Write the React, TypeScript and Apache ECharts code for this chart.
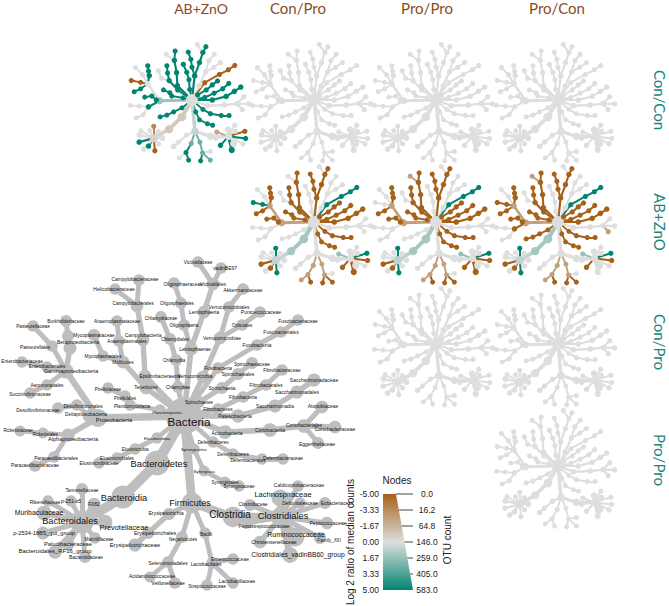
import React, { useEffect, useRef } from "react";
import * as echarts from "echarts";

// [key, parent key, layout x, layout y, OTU count, label x, label y, label size]
type Row = [string, string | null, number, number, number, number, number, number];

const rootRow: Row[] = [["Bacteria", null, 184, 416, 583, 189, 421, 11.7]];
const proteobacteria: Row[] = [
  ["Proteobacteria", "Bacteria", 98, 418, 60, 114, 420, 5.6],
  ["Deltaproteobacteria", "Proteobacteria", 89, 416, 8, 86, 414, 4.8],
  ["Desulfovibrionales", "Deltaproteobacteria", 77, 405, 4, 83, 406, 4.8],
  ["Desulfovibrionaceae", "Desulfovibrionales", 58, 408, 4, 38, 410, 4.8],
  ["Gammaproteobacteria", "Proteobacteria", 66, 371, 25, 71, 371, 5.5],
  ["Aeromonadales", "Gammaproteobacteria", 47, 385, 3, 47, 385, 4.7],
  ["Succinivibrionaceae", "Aeromonadales", 30, 393, 3, 30, 394, 4.7],
  ["Enterobacteriales", "Gammaproteobacteria", 47, 367, 3, 47, 366, 4.7],
  ["Enterobacteriaceae", "Enterobacteriales", 22, 362, 3, 22, 361, 4.8],
  ["Pasteurellales", "Gammaproteobacteria", 52, 346, 4, 35, 347, 4.8],
  ["Pasteurellaceae", "Pasteurellales", 33, 326, 4, 33, 326, 4.7],
  ["Betaproteobacteria", "Gammaproteobacteria", 70, 348, 10, 78, 342, 5],
  ["Burkholderiales", "Betaproteobacteria", 68, 336, 5, 68, 336, 0],
  ["Burkholderiaceae", "Burkholderiales", 66, 321, 5, 66, 321, 4.8],
  ["Alphaproteobacteria", "Proteobacteria", 68, 435, 10, 73, 439, 5.6],
  ["Rickettsiales", "Alphaproteobacteria", 43, 433, 2, 45, 434, 4.5],
  ["Rickettsiaceae", "Rickettsiales", 20, 431, 2, 18, 430, 4.5],
  ["Paracaedibacterales", "Alphaproteobacteria", 54, 457, 4, 56, 458, 4.8],
  ["Paracaedibacteraceae", "Paracaedibacterales", 35, 466, 4, 35, 465, 4.8],
];
const epsilonRows: Row[] = [
  ["Epsilonbacteraeota", "Bacteria", 145, 376, 8, 160, 376, 4.8],
  ["Campylobacteria", "Epsilonbacteraeota", 143, 340, 8, 143, 335, 4.9],
  ["Campylobacterales", "Campylobacteria", 137, 306, 8, 133, 303, 4.8],
  ["Helicobacteraceae", "Campylobacterales", 115, 289, 3, 114, 289, 5],
  ["Campylobacteraceae", "Campylobacterales", 139, 280, 4, 135, 279, 5],
];
const tenericutesRows: Row[] = [
  ["Tenericutes", "Bacteria", 146, 388, 8, 146, 387, 4.6],
  ["Mollicutes", "Tenericutes", 123, 362, 8, 123, 362, 4.8],
  ["Mycoplasmatales", "Mollicutes", 103, 356, 3, 103, 356, 4.8],
  ["Mycoplasmataceae", "Mycoplasmatales", 94, 335, 5, 94, 335, 4.8],
  ["Anaeroplasmatales", "Mollicutes", 119, 341, 4, 127, 341, 4.6],
  ["Anaeroplasmataceae", "Anaeroplasmatales", 117, 321, 4, 117, 321, 4.9],
];
const planctomycetesRows: Row[] = [
  ["Planctomycetes", "Bacteria", 160, 410, 3, 167, 412, 4.2],
  ["Planctomycetacia", "Planctomycetes", 130, 405, 3, 132, 406, 4.6],
  ["Pirellulales", "Planctomycetacia", 125, 396, 3, 125, 398, 4.6],
  ["Pirellulaceae", "Pirellulales", 108, 388, 3, 108, 389, 4.6],
];
const chlamydiaeRows: Row[] = [
  ["Chlamydiae", "Bacteria", 178, 387, 5, 178, 387, 4.6],
  ["Chlamydiia", "Chlamydiae", 176, 360, 5, 174, 360, 4.5],
  ["Chlamydiales", "Chlamydiia", 170, 339, 5, 175, 339, 4.6],
  ["Chlamydiaceae", "Chlamydiales", 161, 317, 5, 161, 318, 4.7],
];
const verrucomicrobiaRows: Row[] = [
  ["Verrucomicrobia", "Bacteria", 203, 377, 8, 195, 376, 4.8],
  ["Verrucomicrobiae", "Verrucomicrobia", 220, 338, 8, 222, 338, 4.9],
  ["Verrucomicrobiales", "Verrucomicrobiae", 229, 307, 4, 229, 307, 4.8],
  ["Akkermansiaceae", "Verrucomicrobiales", 243, 289, 4, 243, 290, 4.9],
  ["Opitutales", "Verrucomicrobiae", 242, 325, 4, 242, 325, 4.6],
  ["Puniceicoccaceae", "Opitutales", 260, 312, 4, 261, 312, 5],
];
const lentisphaeraeRows: Row[] = [
  ["Lentisphaerae", "Bacteria", 191, 349, 12, 195, 349, 5],
  ["Lentisphaeria", "Lentisphaerae", 204, 312, 8, 204, 312, 5],
  ["Victivallales", "Lentisphaeria", 213, 284, 8, 213, 284, 5],
  ["Victivallaceae", "Victivallales", 198, 262, 4, 198, 262, 4.7],
  ["vadinBE97", "Victivallales", 221, 268, 4, 225, 268, 5],
  ["Oligosphaeria", "Lentisphaerae", 184, 325, 4, 184, 325, 4.7],
  ["Oligosphaerales", "Oligosphaeria", 181, 303, 4, 177, 303, 4.7],
  ["Oligosphaeraceae", "Oligosphaerales", 174, 283, 4, 183, 284, 4.8],
];
const spirochaetesRows: Row[] = [
  ["Spirochaetes", "Bacteria", 199, 402, 5, 199, 402, 4.8],
  ["Spirochaetia", "Spirochaetes", 222, 388, 5, 222, 388, 4.9],
  ["Spirochaetales", "Spirochaetia", 238, 374, 5, 238, 374, 4.9],
  ["Spirochaetaceae", "Spirochaetales", 252, 363, 5, 252, 364, 4.8],
];
const fusobacteriaRows: Row[] = [
  ["Fusobacteria", "Bacteria", 218, 368, 4, 218, 368, 4.8],
  ["Fusobacteriia", "Fusobacteria", 257, 345, 4, 257, 345, 4.8],
  ["Fusobacteriales", "Fusobacteriia", 281, 332, 4, 281, 332, 5],
  ["Fusobacteriaceae", "Fusobacteriales", 298, 320, 4, 298, 321, 5],
];
const fibrobacteresRows: Row[] = [
  ["Fibrobacteres", "Bacteria", 218, 409, 4, 218, 409, 4.8],
  ["Fibrobacteria", "Fibrobacteres", 243, 397, 4, 243, 397, 4.8],
  ["Fibrobacterales", "Fibrobacteria", 266, 385, 4, 266, 385, 4.8],
  ["Fibrobacteraceae", "Fibrobacterales", 282, 370, 4, 282, 370, 4.8],
];
const patescibacteriaRows: Row[] = [
  ["Patescibacteria", "Bacteria", 238, 416, 12, 235, 416, 4.9],
  ["Saccharimonadia", "Patescibacteria", 275, 406, 10, 275, 406, 4.9],
  ["Saccharimonadales", "Saccharimonadia", 297, 392, 10, 297, 392, 5],
  ["Saccharimonadaceae", "Saccharimonadales", 314, 380, 10, 314, 380, 5],
];
const actinobacteriaRows: Row[] = [
  ["Actinobacteria", "Bacteria", 225, 432, 14, 227, 433, 4.9],
  ["Coriobacteriia", "Actinobacteria", 270, 430, 14, 270, 430, 4.9],
  ["Coriobacteriales", "Coriobacteriia", 304, 426, 14, 304, 425, 5],
  ["Atopobiaceae", "Coriobacteriales", 322, 407, 8, 323, 406, 5],
  ["Coriobacteriaceae", "Coriobacteriales", 335, 427, 8, 335, 429, 5],
  ["Eggerthellaceae", "Coriobacteriales", 318, 443, 5, 317, 444, 5],
];
const deferribacteresRows: Row[] = [
  ["Deferribacteres", "Bacteria", 213, 442, 3, 213, 442, 4.5],
  ["Deferribacteres#", "Deferribacteres", 233, 454, 3, 233, 454, 4.6],
  ["Deferribacterales", "Deferribacteres#", 262, 459, 3, 248, 460, 4.6],
  ["Deferribacteraceae", "Deferribacterales", 283, 459, 3, 283, 458, 4.7],
];
const synergistetesRows: Row[] = [
  ["Synergistetes", "Bacteria", 194, 449, 2, 194, 449, 4.3],
  ["Synergistia", "Synergistetes", 204, 471, 2, 204, 471, 4.3],
  ["Synergistales", "Synergistia", 225, 482, 2, 225, 482, 4.5],
  ["Synergistaceae", "Synergistales", 239, 486, 3, 239, 486, 4.5],
];
const elusimicrobiaRows: Row[] = [
  ["Elusimicrobia", "Bacteria", 157, 438, 3, 157, 438, 4.4],
  ["Elusimicrobia#", "Elusimicrobia", 135, 449, 3, 135, 449, 4.5],
  ["Elusimicrobiales", "Elusimicrobia#", 117, 458, 3, 117, 458, 4.7],
  ["Elusimicrobiaceae", "Elusimicrobiales", 99, 463, 3, 99, 463, 4.8],
];
const bacteroidetesRows: Row[] = [
  ["Bacteroidetes", "Bacteria", 157, 463, 190, 159, 464, 9.3],
  ["Bacteroidia", "Bacteroidetes", 123, 497, 150, 124, 498, 9.3],
  ["Bacteroidales", "Bacteroidia", 82, 522, 150, 70, 521, 9.2],
  ["Tannerellaceae", "Bacteroidales", 82, 489, 5, 82, 490, 4.9],
  ["p-251-o5", "Bacteroidales", 71, 501, 3, 71, 501, 5],
  ["Rikenellaceae", "Bacteroidales", 48, 501, 3, 45, 502, 4.9],
  ["F082", "Bacteroidales", 94, 504, 8, 94, 504, 5],
  ["Muribaculaceae", "Bacteroidales", 44, 513, 22, 39, 512, 6.9],
  ["Prevotellaceae", "Bacteroidales", 105, 522, 22, 124, 527, 7.4],
  ["p-2534-18B5_gut_group", "Bacteroidales", 43, 533, 9, 44, 533, 5.7],
  ["Paludibacteraceae", "Bacteroidales", 68, 544, 10, 68, 544, 5.8],
  ["Bacteroidales_RF16_group", "Bacteroidales", 55, 552, 12, 55, 551, 6],
  ["Bacteroidaceae", "Bacteroidales", 85, 557, 5, 86, 557, 4.9],
  ["Marinifilaceae", "Bacteroidales", 95, 538, 3, 99, 539, 4.7],
];
const firmicutesRows: Row[] = [
  ["Firmicutes", "Bacteria", 192, 503, 100, 190, 503, 9],
  ["Erysipelotrichia", "Firmicutes", 169, 514, 6, 166, 513, 5.2],
  ["Erysipelotrichales", "Erysipelotrichia", 148, 533, 6, 155, 533, 5.4],
  ["Erysipelotrichaceae", "Erysipelotrichales", 135, 545, 10, 135, 545, 5.8],
  ["Negativicutes", "Firmicutes", 182, 537, 4, 183, 539, 4.7],
  ["Selenomonadales", "Negativicutes", 168, 562, 4, 168, 563, 4.9],
  ["Acidaminococcaceae", "Selenomonadales", 150, 577, 2, 152, 576, 4.9],
  ["Veillonellaceae", "Selenomonadales", 175, 583, 4, 168, 583, 5],
  ["Bacilli", "Firmicutes", 205, 533, 3, 206, 534, 4.5],
  ["Lactobacillales", "Bacilli", 212, 563, 3, 206, 564, 4.7],
  ["Enterococcaceae", "Lactobacillales", 233, 559, 3, 230, 559, 4.9],
  ["Streptococcaceae", "Lactobacillales", 207, 585, 3, 207, 586, 4.7],
  ["Lactobacillaceae", "Lactobacillales", 233, 583, 3, 237, 581, 4.9],
];
const clostridiaRows: Row[] = [
  ["Clostridia", "Firmicutes", 233, 517, 95, 230, 514, 10],
  ["Clostridiales", "Clostridia", 281, 517, 90, 283, 516, 9.3],
  ["Clostridiaceae", "Clostridiales", 250, 505, 5, 253, 504, 4.6],
  ["Caldicoprobacteraceae", "Clostridiales", 298, 486, 4, 299, 485, 4.9],
  ["Lachnospiraceae", "Clostridiales", 280, 498, 45, 283, 494, 7.5],
  ["Defluviitaleaceae", "Clostridiales", 300, 503, 3, 300, 503, 4.7],
  ["Eubacteriaceae", "Clostridiales", 325, 503, 5, 337, 503, 4.7],
  ["Peptococcaceae", "Clostridiales", 327, 523, 7, 328, 523, 5],
  ["Family_XIII", "Clostridiales", 320, 538, 6, 329, 540, 4.7],
  ["Ruminococcaceae", "Clostridiales", 295, 537, 70, 296, 534, 7],
  ["Christensenellaceae", "Clostridiales", 260, 542, 8, 274, 542, 5],
  ["Clostridiales_vadinBB60_group", "Clostridiales", 290, 555, 32, 298, 554, 6.7],
  ["Peptostreptococcaceae", "Clostridiales", 247, 523, 4, 264, 526, 4.9],
];

const allRows: Row[] = [
  ...rootRow, ...proteobacteria, ...epsilonRows, ...tenericutesRows, ...planctomycetesRows,
  ...chlamydiaeRows, ...verrucomicrobiaRows, ...lentisphaeraeRows, ...spirochaetesRows,
  ...fusobacteriaRows, ...fibrobacteresRows, ...patescibacteriaRows, ...actinobacteriaRows,
  ...deferribacteresRows, ...synergistetesRows, ...elusimicrobiaRows, ...bacteroidetesRows,
  ...firmicutesRows, ...clostridiaRows,
];

// lineages used to list the values of each comparison
const epsilon = epsilonRows.map((r) => r[0]).filter((n) => n !== "Helicobacteraceae");
const tener = ["Tenericutes", "Mollicutes", "Anaeroplasmatales", "Anaeroplasmataceae"];
const planct = planctomycetesRows.map((r) => r[0]);
const chlam = chlamydiaeRows.map((r) => r[0]);
const oligo = ["Lentisphaerae", "Oligosphaeria", "Oligosphaerales", "Oligosphaeraceae"];
const victiv = ["Lentisphaeria", "Victivallales", "vadinBE97"];
const spiro = spirochaetesRows.map((r) => r[0]);
const fuso = fusobacteriaRows.map((r) => r[0]);
const fibro = fibrobacteresRows.map((r) => r[0]);
const pates = patescibacteriaRows.map((r) => r[0]);
const defer = deferribacteresRows.map((r) => r[0]);
const syner = synergistetesRows.map((r) => r[0]);
const elusi = elusimicrobiaRows.map((r) => r[0]);
const beta = ["Betaproteobacteria", "Burkholderiales", "Burkholderiaceae"];
const aero = ["Aeromonadales", "Succinivibrionaceae"];
const entero = ["Enterobacteriales", "Enterobacteriaceae"];
const delta = ["Deltaproteobacteria", "Desulfovibrionales", "Desulfovibrionaceae"];
const bacteroStem = ["Bacteroidetes", "Bacteroidia"];

type Values = [number, string[]][];

const abZnOvsConCon: Values = [
  [5, [...epsilon, ...oligo, ...victiv, ...chlam, ...planct, ...tener, ...spiro, ...fibro, ...pates,
    ...defer, ...syner, ...elusi, ...beta, ...aero, ...delta, "Alphaproteobacteria", "Selenomonadales",
    "Veillonellaceae", "Streptococcaceae", "p-2534-18B5_gut_group", "Paludibacteraceae", "Peptococcaceae",
    "Christensenellaceae", "Clostridiales_vadinBB60_group"]],
  [-5, [...fuso, ...entero, "Bacteroidaceae", "Eubacteriaceae"]],
  [-3.5, ["Tannerellaceae"]],
  [-2.2, ["Clostridiaceae"]],
  [-0.9, [...bacteroStem]],
  [-0.5, ["Bacteroidales"]],
  [0.6, ["Firmicutes"]],
  [1.5, ["Proteobacteria"]],
  [2.6, ["Negativicutes", "Bacilli", "Lactobacillales", "Lactobacillaceae"]],
];

const conProVsAbZnO: Values = [
  [5, ["Enterobacteriales", "Enterobacteriaceae", ...fuso, "Tannerellaceae", "Bacteroidaceae", "Eubacteriaceae"]],
  [-5, [...epsilon, ...oligo, ...victiv, ...planct, ...tener, ...spiro, ...fibro, ...pates, ...defer, ...syner,
    ...beta, ...aero, ...delta, "p-2534-18B5_gut_group", "Paludibacteraceae", "Peptococcaceae", "Christensenellaceae",
    "Clostridiales_vadinBB60_group", "Veillonellaceae", "Streptococcaceae", "Lactobacillaceae"]],
  [-2.5, ["Proteobacteria", "Gammaproteobacteria", "Negativicutes", "Selenomonadales", "Acidaminococcaceae", "Bacilli", "Lactobacillales"]],
  [1.3, [...bacteroStem]],
  [0.6, ["Bacteroidales"]],
  [1.6, ["Clostridiaceae"]],
];

const proProVsAbZnO: Values = [
  [5, [...fuso, "Tannerellaceae", "Bacteroidaceae", "Eubacteriaceae"]],
  [-5, [...epsilon, ...oligo, ...victiv, ...planct, ...tener, ...spiro, ...fibro, ...pates, ...defer, ...syner,
    ...beta, ...aero, ...delta, "p-2534-18B5_gut_group", "Paludibacteraceae", "Peptococcaceae", "Christensenellaceae",
    "Clostridiales_vadinBB60_group", "Veillonellaceae", "Streptococcaceae", "Lactobacillaceae"]],
  [-2.5, ["Proteobacteria", "Gammaproteobacteria", "Negativicutes", "Selenomonadales", "Acidaminococcaceae", "Bacilli", "Lactobacillales", "Helicobacteraceae"]],
  [1.3, [...bacteroStem]],
  [0.7, ["Bacteroidales"]],
  [1.6, ["Clostridiaceae"]],
];

const proConVsAbZnO: Values = [
  [5, [...fuso, "Tannerellaceae", "Bacteroidaceae", "Eubacteriaceae"]],
  [-5, [...epsilon, ...oligo, ...victiv, ...planct, ...tener, ...spiro, ...fibro, ...pates, ...defer, ...syner,
    ...beta, ...aero, ...delta, ...entero, ...elusi, "Alphaproteobacteria", "p-2534-18B5_gut_group", "Paludibacteraceae",
    "Peptococcaceae", "Christensenellaceae", "Veillonellaceae", "Streptococcaceae", "Lactobacillaceae"]],
  [-2.5, ["Proteobacteria", "Gammaproteobacteria", "Negativicutes", "Selenomonadales", "Acidaminococcaceae", "Bacilli", "Lactobacillales", "Helicobacteraceae", "Eggerthellaceae"]],
  [1.3, [...bacteroStem]],
  [0.7, ["Bacteroidales"]],
  [1.6, ["Clostridiaceae"]],
];

const noChange: Values = [];

const columnTitles = ["AB+ZnO", "Con/Pro", "Pro/Pro", "Pro/Con"];
const rowTitles = ["Con/Con", "AB+ZnO", "Con/Pro", "Pro/Pro"];
const legendRatios = ["-5.00", "-3.33", "-1.67", "0.00", "1.67", "3.33", "5.00"];
const legendCounts = ["0.0", "16.2", "64.8", "146.0", "259.0", "405.0", "583.0"];

// [column, row, values]
const panels: [number, number, Values][] = [
  [0, 0, abZnOvsConCon], [1, 0, noChange], [2, 0, noChange], [3, 0, noChange],
  [1, 1, conProVsAbZnO], [2, 1, proProVsAbZnO], [3, 1, proConVsAbZnO],
  [2, 2, noChange], [3, 2, noChange],
  [3, 3, noChange],
];

const BROWN = [166, 97, 26];
const MID = [222, 222, 222];
const GREEN = [1, 133, 113];
const colourOf = (v: number) => {
  const t = Math.min(1, Math.abs(v) / 5);
  const end = v < 0 ? BROWN : GREEN;
  const c = MID.map((m, i) => Math.round(m + (end[i] - m) * t));
  return `rgb(${c[0]},${c[1]},${c[2]})`;
};
const diameter = (count: number) => 9.5 + 27 * Math.sqrt(count / 583);
const smallDiameter = (count: number) => 2 + 0.27 * diameter(count);
const displayName = (key: string) => key.replace("#", "");

const X_MIN = 0, X_MAX = 360, Y_MIN = 250, Y_MAX = 600;
const ROOT_X = allRows[0][2], ROOT_Y = allRows[0][3];
const SCALE_X = 0.375, SCALE_Y = 0.36, EDGE_SCALE = 0.4;

function buildOption() {
  const index: Record<string, number> = {};
  allRows.forEach((r, i) => { index[r[0]] = i; });

  const grid: any[] = [], xAxis: any[] = [], yAxis: any[] = [], series: any[] = [];
  const addGrid = (rect: any) => {
    const n = grid.length;
    grid.push({ ...rect, containLabel: false, show: false });
    xAxis.push({ type: "value", gridIndex: n, min: X_MIN, max: X_MAX, show: false });
    yAxis.push({ type: "value", gridIndex: n, min: Y_MIN, max: Y_MAX, inverse: true, show: false });
    return n;
  };
  const linkList = (colour: (i: number) => string, widthScale: number) =>
    allRows.filter((r) => r[1] !== null).map((r) => ({
      source: String(index[r[1] as string]),
      target: String(index[r[0]]),
      lineStyle: { color: colour(index[r[0]]), width: diameter(r[4]) * 0.42 * widthScale, opacity: 1, curveness: 0, cap: "round" },
    }));

  // key tree
  const keyGrid = addGrid({ left: X_MIN, top: Y_MIN, width: X_MAX - X_MIN, height: Y_MAX - Y_MIN });
  series.push({
    type: "graph", coordinateSystem: "cartesian2d", xAxisIndex: keyGrid, yAxisIndex: keyGrid,
    layout: "none", silent: true, roam: false, animation: false, z: 2,
    data: allRows.map((r, i) => ({
      id: String(i), name: displayName(r[0]), value: [r[2], r[3]], symbol: "circle", symbolSize: diameter(r[4]),
      itemStyle: { color: "#BEBEBE", opacity: 1 },
      label: r[7] > 0 ? {
        show: true, position: "inside", formatter: displayName(r[0]), offset: [r[5] - r[2], r[6] - r[3]],
        fontSize: r[7], color: "#111", fontFamily: "Liberation Sans",
      } : { show: false },
    })),
    links: linkList(() => "#BEBEBE", 1),
  });

  // comparison trees
  panels.forEach(([col, row, values]) => {
    const map: Record<string, number> = {};
    values.forEach(([v, names]) => names.forEach((name) => { map[name] = v; }));
    const cx = 192 + col * 122, cy = 100 + row * 122;
    const g = addGrid({
      left: cx - (ROOT_X - X_MIN) * SCALE_X, top: cy - (ROOT_Y - Y_MIN) * SCALE_Y,
      width: (X_MAX - X_MIN) * SCALE_X, height: (Y_MAX - Y_MIN) * SCALE_Y,
    });
    const colour = (i: number) => colourOf(map[allRows[i][0]] ?? 0);
    series.push({
      type: "graph", coordinateSystem: "cartesian2d", xAxisIndex: g, yAxisIndex: g,
      layout: "none", silent: true, roam: false, animation: false, z: 2,
      data: allRows.map((r, i) => ({
        id: String(i), name: displayName(r[0]), value: [r[2], r[3]], symbol: "circle",
        symbolSize: smallDiameter(r[4]),
        itemStyle: { color: colour(i), opacity: 1 }, label: { show: false },
      })),
      links: linkList(colour, EDGE_SCALE),
    });
  });

  // titles and legend
  const graphic: any[] = [];
  const titleFont = "Lato";
  const titleXs = [201, 298, 427, 557];
  const titleSizes = [14, 15, 15, 15];
  columnTitles.forEach((t, i) => graphic.push({
    type: "text", x: titleXs[i], y: 8, style: { text: t, fill: "#8A4B26", font: `${titleSizes[i]}px ${titleFont}`, textAlign: "center", textVerticalAlign: "middle" },
  }));
  const rowYs = [100, 222, 342, 460];
  rowTitles.forEach((t, i) => graphic.push({
    type: "text", x: 660, y: rowYs[i], rotation: -Math.PI / 2,
    style: { text: t, fill: "#17877A", font: `15px ${titleFont}`, textAlign: "center", textVerticalAlign: "middle" },
  }));

  const LEG_TOP = 494, LEG_BOTTOM = 590, LEG_LEFT = 383, LEG_RIGHT = 413, WEDGE_TOP_RIGHT = 396;
  const steps = legendRatios.length - 1;
  graphic.push({
    type: "polygon", shape: { points: [[LEG_LEFT, LEG_TOP], [WEDGE_TOP_RIGHT, LEG_TOP], [LEG_RIGHT, LEG_BOTTOM], [LEG_LEFT, LEG_BOTTOM]] },
    style: { fill: new echarts.graphic.LinearGradient(0, 0, 0, 1, [
      { offset: 0, color: colourOf(-5) }, { offset: 0.5, color: colourOf(0) }, { offset: 1, color: colourOf(5) },
    ]) },
  });
  legendRatios.forEach((t, i) => {
    const y = LEG_TOP + ((LEG_BOTTOM - LEG_TOP) * i) / steps;
    const edge = WEDGE_TOP_RIGHT + ((LEG_RIGHT - WEDGE_TOP_RIGHT) * i) / steps;
    graphic.push({ type: "text", x: 379, y, style: { text: t, fill: "#222", font: "8.5px Liberation Sans", textAlign: "right", textVerticalAlign: "middle" } });
    graphic.push({ type: "text", x: 427, y, style: { text: legendCounts[i], fill: "#222", font: "8.5px Liberation Sans", textAlign: "center", textVerticalAlign: "middle" } });
    if (i < steps) graphic.push({ type: "line", shape: { x1: edge, y1: y, x2: LEG_RIGHT, y2: y }, style: { stroke: "#444", lineWidth: 1 } });
  });
  graphic.push({ type: "text", x: 397, y: 480, style: { text: "Nodes", fill: "#222", font: "10px Liberation Sans", textAlign: "center", textVerticalAlign: "middle" } });
  graphic.push({ type: "text", x: 350, y: 542, rotation: Math.PI / 2, style: { text: "Log 2 ratio of median counts", fill: "#222", font: "10px Liberation Sans", textAlign: "center", textVerticalAlign: "middle" } });
  graphic.push({ type: "text", x: 447, y: 540, rotation: Math.PI / 2, style: { text: "OTU count", fill: "#222", font: "10px Liberation Sans", textAlign: "center", textVerticalAlign: "middle" } });

  return { animation: false, backgroundColor: "#fff", grid, xAxis, yAxis, series, graphic };
}

export default function App() {
  const ref = useRef<HTMLDivElement>(null);
  useEffect(() => {
    const chart = echarts.init(ref.current as HTMLDivElement, undefined, { renderer: "svg" });
    chart.setOption(buildOption() as any);
    return () => chart.dispose();
  }, []);
  return <div ref={ref} style={{ position: "fixed", left: 0, top: 0, width: 669, height: 606 }} />;
}
